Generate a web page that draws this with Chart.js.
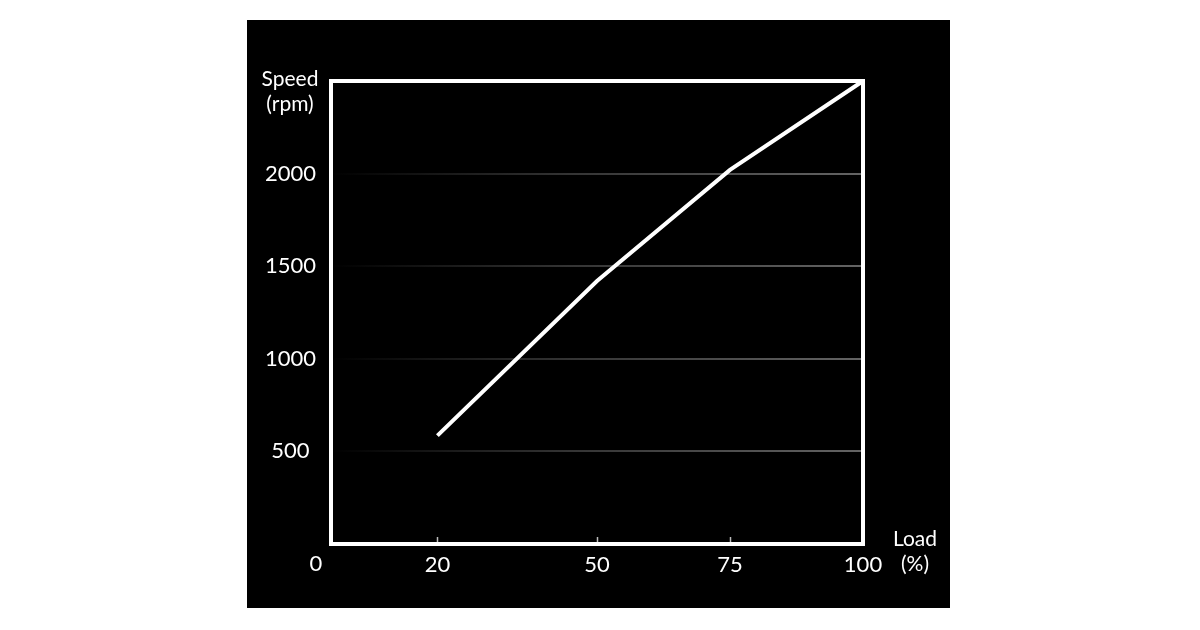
<!DOCTYPE html>
<html lang="en">
<head>
  <meta charset="UTF-8">
  <title>Speed vs Load</title>
  <script src="https://cdn.jsdelivr.net/npm/chart.js"></script>
  <style>
    body {
      margin: 0;
      padding: 0;
      background-color: #ffffff;
      width: 1200px;
      height: 630px;
      overflow: hidden;
    }
    .panel {
      position: absolute;
      left: 247px;
      top: 20px;
      width: 703px;
      height: 588px;
      background-color: #000000;
    }
  </style>
</head>
<body>
  <div class="panel">
    <canvas id="speedChart" width="703" height="588"></canvas>
  </div>
  <script>
    // chart values
    const loadPct = [20, 50, 75, 100];
    const speedRpm = [585, 1420, 2020, 2500];
    const xTicks = [20, 50, 75, 100];
    const yTicks = [500, 1000, 1500, 2000];
    const originLabel = "0";
    const yTitle = ["Speed", "(rpm)"];
    const xTitle = ["Load", "(%)"];

    const FONT = "Lato, 'Open Sans', sans-serif";
    const TITLE_SIZE = 21;
    const TICK_SIZE = 22;

    // frame, inward ticks and axis titles
    const framePlugin = {
      id: "frame",
      beforeDatasetsDraw(chart) {
        const { ctx, chartArea: a, scales } = chart;
        ctx.save();
        ctx.strokeStyle = "#ffffff";
        ctx.lineWidth = 4;
        ctx.strokeRect(a.left, a.top, a.right - a.left, a.bottom - a.top);
        ctx.lineWidth = 1.5;
        ctx.strokeStyle = "#bbbbbb";
        xTicks.forEach((v) => {
          if (v >= scales.x.max) return;
          const px = Math.round(scales.x.getPixelForValue(v)) + 0.5;
          ctx.beginPath();
          ctx.moveTo(px, a.bottom - 2);
          ctx.lineTo(px, a.bottom - 7);
          ctx.stroke();
        });
        ctx.restore();
      },
      afterDraw(chart) {
        const { ctx, chartArea: a, scales } = chart;
        ctx.save();
        ctx.fillStyle = "#ffffff";
        ctx.textAlign = "center";
        ctx.textBaseline = "middle";
        ctx.font = `${TITLE_SIZE}px ${FONT}`;
        // y title, centred over the tick labels
        const yc = a.left / 2 + 1;
        ctx.fillText(yTitle[0], yc, a.top - 2);
        ctx.fillText(yTitle[1], yc, a.top + 23);
        // x title, right of the plot
        const xc = a.right + 52;
        ctx.fillText(xTitle[0], xc, a.bottom - 5);
        ctx.fillText(xTitle[1], xc, a.bottom + 20);
        // shared origin label
        ctx.font = `${TICK_SIZE}px ${FONT}`;
        ctx.fillText(originLabel, scales.x.getPixelForValue(0) - 15, a.bottom + 20);
        ctx.restore();
      }
    };

    const ctx = document.getElementById("speedChart").getContext("2d");
    new Chart(ctx, {
      type: "line",
      data: {
        datasets: [{
          data: loadPct.map((x, i) => ({ x, y: speedRpm[i] })),
          borderColor: "#ffffff",
          borderWidth: 4,
          pointRadius: 0,
          tension: 0,
          clip: false
        }]
      },
      options: {
        responsive: false,
        animation: false,
        layout: { padding: { top: 61, right: 87, left: 0, bottom: 0 } },
        plugins: {
          legend: { display: false },
          tooltip: { enabled: false }
        },
        scales: {
          x: {
            type: "linear",
            min: 0,
            max: 100,
            afterFit: (s) => { s.height = 64; },
            afterBuildTicks: (s) => { s.ticks = xTicks.map((v) => ({ value: v })); },
            grid: { display: false, drawTicks: false },
            border: { display: false },
            ticks: {
              autoSkip: false,
              color: "#ffffff",
              padding: 8,
              maxRotation: 0,
              callback: (v) => String(v),
              font: { family: FONT, size: TICK_SIZE }
            }
          },
          y: {
            min: 0,
            max: 2500,
            afterFit: (s) => { s.width = 84; },
            afterBuildTicks: (s) => { s.ticks = yTicks.map((v) => ({ value: v })); },
            border: { display: false },
            grid: {
              drawTicks: false,
              lineWidth: 2,
              color: (c) => {
                const area = c.chart.chartArea;
                if (!area) return "#555555";
                const g = c.chart.ctx.createLinearGradient(area.left, 0, area.right, 0);
                g.addColorStop(0, "rgba(95,95,95,0)");
                g.addColorStop(0.45, "rgba(95,95,95,0.55)");
                g.addColorStop(1, "rgba(100,100,100,1)");
                return g;
              }
            },
            ticks: {
              autoSkip: false,
              color: "#ffffff",
              crossAlign: "center",
              padding: 15,
              callback: (v) => String(v),
              font: { family: FONT, size: TICK_SIZE }
            }
          }
        }
      },
      plugins: [framePlugin]
    });
  </script>
</body>
</html>
